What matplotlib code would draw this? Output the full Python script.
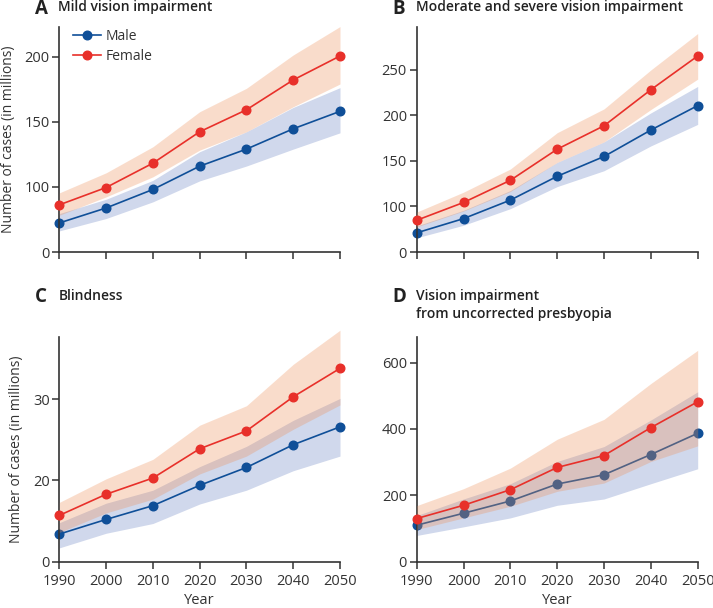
import numpy as np
import matplotlib
matplotlib.use("Agg")
from matplotlib import pyplot as plt

plt.rcParams['font.family'] = ['Open Sans', 'DejaVu Sans']

years = [1990, 2000, 2010, 2020, 2030, 2040, 2050]

# A: mild vision impairment
a_male = [72.3, 83.8, 98.0, 115.9, 129.0, 144.6, 158.0]
a_male_lo = [66.2, 75.7, 88.5, 104.6, 116.0, 129.0, 141.5]
a_male_hi = [79.5, 90.5, 105.0, 127.0, 142.3, 161.0, 176.2]
a_female = [86.2, 99.5, 118.2, 142.3, 159.2, 182.1, 200.5]
a_female_lo = [78.2, 92.3, 107.7, 128.2, 142.3, 161.5, 179.0]
a_female_hi = [95.4, 110.8, 130.8, 157.7, 175.7, 201.3, 223.1]

# B: moderate and severe vision impairment
b_male = [71.0, 86.6, 106.9, 133.0, 154.7, 183.7, 210.5]
b_male_lo = [65.6, 79.3, 97.5, 121.7, 139.1, 166.3, 189.9]
b_male_hi = [78.6, 95.7, 117.4, 148.2, 170.7, 202.5, 231.5]
b_female = [84.8, 104.3, 128.6, 162.7, 188.4, 227.9, 264.9]
b_female_lo = [77.5, 94.9, 116.3, 148.2, 170.7, 206.2, 239.5]
b_female_hi = [93.8, 115.6, 141.0, 180.8, 206.9, 249.6, 289.5]

# C: blindness
c_male = [13.4, 15.2, 16.9, 19.4, 21.6, 24.4, 26.6]
c_male_lo = [11.7, 13.5, 14.7, 17.1, 18.8, 21.2, 23.0]
c_male_hi = [14.8, 17.2, 18.8, 21.7, 24.2, 27.4, 30.1]
c_female = [15.7, 18.3, 20.3, 23.9, 26.1, 30.3, 33.8]
c_female_lo = [13.6, 16.0, 17.7, 20.8, 23.0, 26.3, 29.3]
c_female_hi = [17.3, 20.2, 22.6, 26.8, 29.2, 34.3, 38.5]

# D: vision impairment from uncorrected presbyopia
d_male = [110, 146, 183, 234, 262, 323, 387]
d_male_lo = [79, 105, 132, 170, 189, 235, 280]
d_male_hi = [139, 189, 235, 302, 347, 427, 512]
d_female = [130, 170, 217, 284, 320, 404, 482]
d_female_lo = [97, 132, 167, 212, 237, 302, 349]
d_female_hi = [169, 220, 282, 369, 429, 537, 637]

male_color = "#0f4f98"
female_color = "#e8302a"
male_band = "#d0d8ec"
female_band = "#ee8e55"

panels = [
    ("A", "Mild vision impairment", a_male, a_male_lo, a_male_hi, a_female, a_female_lo, a_female_hi,
     (50, 223), [50, 100, 150, 200], ["0", "100", "150", "200"]),
    ("B", "Moderate and severe vision impairment", b_male, b_male_lo, b_male_hi, b_female, b_female_lo, b_female_hi,
     (50, 297), [50, 100, 150, 200, 250], ["0", "100", "150", "200", "250"]),
    ("C", "Blindness", c_male, c_male_lo, c_male_hi, c_female, c_female_lo, c_female_hi,
     (10, 37.7), [10, 20, 30], ["0", "20", "30"]),
    ("D", "Vision impairment\nfrom uncorrected presbyopia", d_male, d_male_lo, d_male_hi, d_female, d_female_lo, d_female_hi,
     (0, 678), [0, 200, 400, 600], ["0", "200", "400", "600"]),
]

W, H = 713, 608
fig = plt.figure(figsize=(W / 100, H / 100), dpi=100)

# axes boxes in pixels: left, top, right, bottom
boxes = [(59.3, 26.7, 340, 252), (416.7, 26.7, 697.7, 252),
         (59.3, 336.7, 340, 561.7), (416.7, 336.7, 697.7, 561.7)]
title_y = [8.5, 8.5, 297, 297]

spine_col = "#333333"
for i, (letter, title, m, mlo, mhi, f, flo, fhi, ylim, yt, ytl) in enumerate(panels):
    l, t, r, b = boxes[i]
    ax = fig.add_axes([l / W, 1 - b / H, (r - l) / W, (b - t) / H])
    ax.fill_between(years, mlo, mhi, color=male_band, lw=0, clip_on=False, zorder=1)
    ax.plot(years, m, color=male_color, lw=1.2, marker="o", ms=6.2, clip_on=False, zorder=2, label="Male")
    ax.fill_between(years, flo, fhi, color=female_band, alpha=0.3, lw=0, clip_on=False, zorder=3)
    ax.plot(years, f, color=female_color, lw=1.2, marker="o", ms=6.2, clip_on=False, zorder=4, label="Female")

    ax.set_xlim(1990, 2050)
    ax.set_ylim(*ylim)
    ax.set_xticks(years)
    ax.set_yticks(yt, labels=ytl)
    for s in ["top", "right"]:
        ax.spines[s].set_visible(False)
    for s in ["left", "bottom"]:
        ax.spines[s].set_color(spine_col)
        ax.spines[s].set_linewidth(1.2)
    ax.tick_params(direction="out", length=5, width=1.1, color=spine_col, labelsize=10.5,
                   labelcolor="#333333", pad=2)
    ax.tick_params(axis="x", pad=3.5)
    if i < 2:
        ax.tick_params(axis="x", labelbottom=False)
    else:
        ax.set_xlabel("Year", fontsize=10.5, color="#333333", labelpad=3)
    if i % 2 == 0:
        ax.set_ylabel("Number of cases (in millions)", fontsize=10, color="#333333", labelpad=6)

    ty = title_y[i]
    fig.text((l - 24) / W, 1 - ty / H, letter, fontsize=13.5, fontweight="bold", color="#222222",
             ha="left", va="center")
    fig.text((l - 1) / W, 1 - (ty - 8) / H, title, fontsize=10, fontweight="semibold", color="#222222",
             ha="left", va="top", linespacing=1.35)

    if i == 0:
        ax.legend(loc="upper left", bbox_to_anchor=(0.03, 1.015), frameon=False, fontsize=10,
                  handlelength=2.0, handletextpad=0.35, borderaxespad=0, labelspacing=0.35,
                  labelcolor="#333333")

fig.savefig("out.png", dpi=100)
